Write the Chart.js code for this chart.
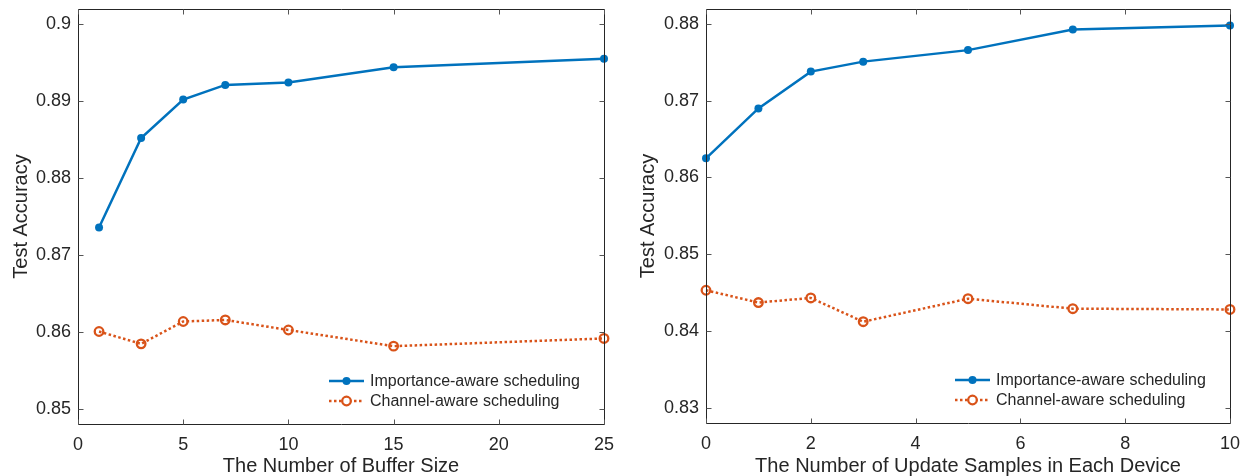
<!DOCTYPE html>
<html><head><meta charset="utf-8">
<script src="https://cdn.jsdelivr.net/npm/chart.js@4/dist/chart.umd.min.js"></script>
<style>
html,body{margin:0;padding:0;background:#fff;}
#wrap{position:relative;width:1245px;height:476px;overflow:hidden;}
.c{position:absolute;top:0;}
</style></head><body>
<div id="wrap">
<div class="c" style="left:0;width:620px;height:476px"><canvas id="c1" width="620" height="476"></canvas></div>
<div class="c" style="left:620px;width:625px;height:476px"><canvas id="c2" width="625" height="476"></canvas></div>
</div>
<script>
// ---- data ----
const bufferSizes   = [1, 3, 5, 7, 10, 15, 25];
const bufImportance = [0.8736, 0.8852, 0.8902, 0.8921, 0.8924, 0.8944, 0.8955];
const bufChannel    = [0.8601, 0.8585, 0.8614, 0.8616, 0.8603, 0.8582, 0.8592];

const updateSamples = [0, 1, 2, 3, 5, 7, 10];
const updImportance = [0.8625, 0.8690, 0.8738, 0.8751, 0.8766, 0.8793, 0.8798];
const updChannel    = [0.8453, 0.8437, 0.8443, 0.8412, 0.8442, 0.8429, 0.8428];

const seriesNames = ['Importance-aware scheduling', 'Channel-aware scheduling'];
const xTicksLeft  = [0, 5, 10, 15, 20, 25];
const yTicksLeft  = [0.85, 0.86, 0.87, 0.88, 0.89, 0.9];
const xTicksRight = [0, 2, 4, 6, 8, 10];
const yTicksRight = [0.83, 0.84, 0.85, 0.86, 0.87, 0.88];
const xTitleLeft  = 'The Number of Buffer Size';
const xTitleRight = 'The Number of Update Samples in Each Device';
const yTitle      = 'Test Accuracy';

// ---- styling ----
const FONT = '"Liberation Sans", Arial, Helvetica, sans-serif';
const TXT = '#262626';
const BLUE = '#0072BD';
const ORANGE = '#D95319';

const framePlugin = {
  id: 'frame',
  afterDraw(chart) {
    const {ctx, chartArea: a, scales} = chart;
    ctx.save();
    ctx.strokeStyle = '#262626';
    ctx.lineWidth = 1;
    ctx.beginPath();
    const L = Math.round(a.left) + 0.5, R = Math.round(a.right) + 0.5;
    const T = Math.round(a.top) + 0.5, B = Math.round(a.bottom) + 0.5;
    ctx.rect(L, T, R - L, B - T);
    ctx.stroke();
    ctx.strokeStyle = '#555';
    const tl = 5;
    ctx.beginPath();
    scales.x.ticks.forEach(t => {
      const px = Math.round(scales.x.getPixelForValue(t.value)) + 0.5;
      ctx.moveTo(px, B); ctx.lineTo(px, B - tl);
      ctx.moveTo(px, T); ctx.lineTo(px, T + tl);
    });
    scales.y.ticks.forEach(t => {
      const py = Math.round(scales.y.getPixelForValue(t.value)) + 0.5;
      ctx.moveTo(L, py); ctx.lineTo(L + tl, py);
      ctx.moveTo(R, py); ctx.lineTo(R - tl, py);
    });
    ctx.stroke();

    // legend (inside, bottom-right)
    const x0 = a.right - 275;
    const rows = [a.bottom - 43, a.bottom - 23];
    chart.data.datasets.forEach((ds, i) => {
      const y = rows[i];
      ctx.save();
      ctx.strokeStyle = ds.borderColor;
      ctx.lineWidth = ds.borderWidth;
      ctx.setLineDash(ds.borderDash || []);
      ctx.beginPath(); ctx.moveTo(x0, y); ctx.lineTo(x0 + 35, y); ctx.stroke();
      ctx.setLineDash([]);
      ctx.beginPath(); ctx.arc(x0 + 17.5, y, ds.pointRadius, 0, Math.PI * 2);
      if (ds.pointBorderWidth > 0) {
        ctx.fillStyle = '#fff'; ctx.fill();
        ctx.lineWidth = ds.pointBorderWidth; ctx.strokeStyle = ds.pointBorderColor; ctx.stroke();
      } else {
        ctx.fillStyle = ds.pointBackgroundColor; ctx.fill();
      }
      ctx.restore();
      ctx.fillStyle = TXT;
      ctx.font = '16px ' + FONT;
      ctx.textBaseline = 'middle';
      ctx.textAlign = 'left';
      ctx.fillText(ds.label, x0 + 41, y + 1);
    });
    ctx.restore();
  }
};

function makeChart(id, xs, imp, chan, xTicks, yTicks, xmin, xmax, ymin, ymax, yAxisW, xAxisH, padR, xTitle, yTitlePad) {
  const ds1 = {
    label: seriesNames[0],
    data: xs.map((x, i) => ({x: x, y: imp[i]})),
    borderColor: BLUE, backgroundColor: BLUE, borderWidth: 2.5,
    pointRadius: 4, pointBorderWidth: 0, pointBackgroundColor: BLUE, pointBorderColor: BLUE,
    tension: 0, clip: false
  };
  const ds2 = {
    label: seriesNames[1],
    data: xs.map((x, i) => ({x: x, y: chan[i]})),
    borderColor: ORANGE, backgroundColor: 'rgba(0,0,0,0)', borderWidth: 2.5, borderDash: [2.5, 2.5],
    pointRadius: 4.3, pointBorderWidth: 2.3, pointBackgroundColor: 'rgba(0,0,0,0)', pointBorderColor: ORANGE,
    tension: 0, clip: false
  };
  return new Chart(document.getElementById(id), {
    type: 'line',
    data: {datasets: [ds1, ds2]},
    options: {
      responsive: false, animation: false, devicePixelRatio: 1,
      layout: {padding: {top: 9, right: padR, left: 0, bottom: 0}},
      plugins: {legend: {display: false}, tooltip: {enabled: false}},
      scales: {
        x: {
          type: 'linear', min: xmin, max: xmax,
          afterBuildTicks: s => { s.ticks = xTicks.map(v => ({value: v})); },
          afterFit: s => { s.height = xAxisH; s.paddingLeft = 0; s.paddingRight = 0; },
          grid: {display: false, drawTicks: false}, border: {display: false},
          ticks: {padding: 10, color: TXT, font: {family: FONT, size: 18}, maxRotation: 0, autoSkip: false,
                  callback: v => String(v)},
          title: {display: true, text: xTitle, color: TXT, font: {family: FONT, size: 20}, padding: {top: 0, bottom: -2}}
        },
        y: {
          type: 'linear', min: ymin, max: ymax,
          afterBuildTicks: s => { s.ticks = yTicks.map(v => ({value: v})); },
          afterFit: s => { s.width = yAxisW; s.paddingTop = 0; s.paddingBottom = 0; },
          grid: {display: false, drawTicks: false}, border: {display: false},
          ticks: {padding: 7, color: TXT, font: {family: FONT, size: 18}, autoSkip: false,
                  callback: v => String(+v.toFixed(2))},
          title: {display: true, text: yTitle, color: TXT, font: {family: FONT, size: 20}, padding: {top: yTitlePad, bottom: 0}}
        }
      }
    },
    plugins: [framePlugin]
  });
}

makeChart('c1', bufferSizes, bufImportance, bufChannel, xTicksLeft, yTicksLeft,
  0, 25, 0.8481, 0.90195, 78, 52, 16, xTitleLeft, 9);
makeChart('c2', updateSamples, updImportance, updChannel, xTicksRight, yTicksRight,
  0, 10, 0.828, 0.88196, 86, 53, 15, xTitleRight, 16);
</script>
</body></html>
